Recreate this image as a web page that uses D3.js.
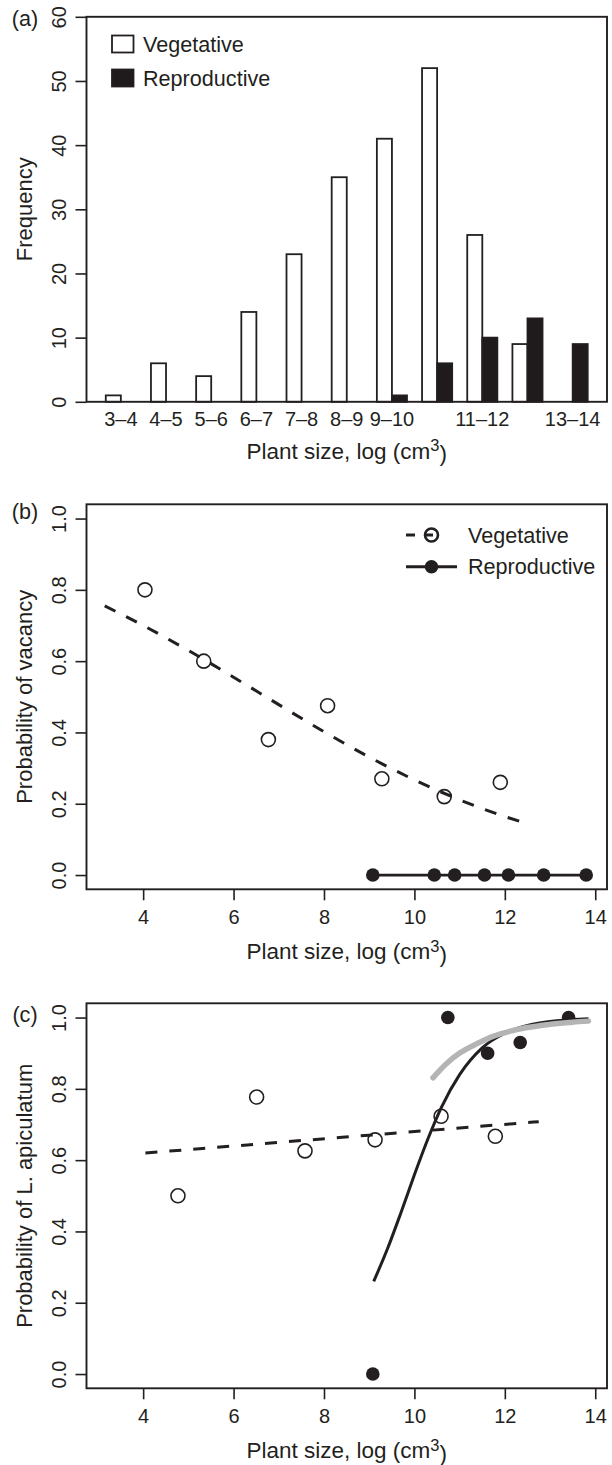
<!DOCTYPE html>
<html>
<head>
<meta charset="utf-8">
<script src="https://cdn.jsdelivr.net/npm/d3@7"></script>
<style>
  body { margin: 0; background: #fff; }
  text { font-family: "Liberation Sans", Arial, sans-serif; fill: #231f20; }
</style>
</head>
<body>
<div id="fig"></div>
<script>
// ---- data ----
// (a) histogram of plant size classes
const sizeClasses = ["3–4", "4–5", "5–6", "6–7", "7–8", "8–9", "9–10", "10–11", "11–12", "12–13", "13–14"];
const shownLabels = ["3–4", "4–5", "5–6", "6–7", "7–8", "8–9", "9–10", "11–12", "13–14"];
const vegFreq = [1, 6, 4, 14, 23, 35, 41, 52, 26, 9, 0];
const repFreq = [0, 0, 0, 0, 0, 0, 1, 6, 10, 13, 9];
const freqTicks = [0, 10, 20, 30, 40, 50, 60];

// (b) probability of vacancy
const vacVegX = [4.04, 5.34, 6.77, 8.08, 9.28, 10.66, 11.90];
const vacVegY = [0.80, 0.60, 0.38, 0.475, 0.27, 0.22, 0.26];
const vacRepX = [9.08, 10.44, 10.89, 11.55, 12.08, 12.86, 13.80];
const vacRepY = [0, 0, 0, 0, 0, 0, 0];
const vacFitX = [3.15, 4, 5, 6, 7, 8, 9, 10, 11, 12, 12.56];
const vacFitY = [0.755, 0.70, 0.63, 0.555, 0.478, 0.402, 0.331, 0.267, 0.211, 0.164, 0.142];

// (c) probability of L. apiculatum
const apiVegX = [4.77, 6.51, 7.58, 9.13, 10.59, 11.79];
const apiVegY = [0.50, 0.777, 0.626, 0.657, 0.723, 0.667];
const apiRepX = [9.08, 10.74, 11.62, 12.34, 13.41];
const apiRepY = [0.0, 1.0, 0.90, 0.93, 1.0];
const apiVegFitX = [4.05, 8.4, 12.75];
const apiVegFitY = [0.62, 0.664, 0.708];
const apiRepFitX = [9.1, 9.4, 9.7, 10.0, 10.3, 10.6, 11.0, 11.5, 12.0, 12.5, 13.0, 13.5, 13.85];
const apiRepFitY = [0.26, 0.35, 0.452, 0.559, 0.66, 0.749, 0.84, 0.915, 0.956, 0.978, 0.989, 0.9946, 0.9967];
const greyFitX = [10.41, 10.7, 11.01, 11.4, 11.75, 12.1, 12.49, 13.0, 13.5, 13.85];
const greyFitY = [0.831, 0.87, 0.901, 0.928, 0.948, 0.961, 0.972, 0.981, 0.987, 0.99];

const probTicks = [0, 0.2, 0.4, 0.6, 0.8, 1.0];
const sizeTicks = [4, 6, 8, 10, 12, 14];

// ---- layout ----
const WIDTH = 612, HEIGHT = 1465;
const INK = "#231f20";
const PLOT = {left: 86.5, right: 607, height: 385};
const TOPS = {a: 16.8, b: 504.3, c: 1003.3};
const TICK_FS = 20, TITLE_FS = 22.5, YTITLE_FS = 22, LEGEND_FS = 21.6;

const svg = d3.select("#fig").append("svg")
    .attr("width", WIDTH)
    .attr("height", HEIGHT);

// frame around a plotting region
function drawBox(top) {
  svg.append("rect")
      .attr("x", PLOT.left).attr("y", top)
      .attr("width", PLOT.right - PLOT.left)
      .attr("height", PLOT.height)
      .attr("fill", "none")
      .attr("stroke", INK)
      .attr("stroke-width", 1.9);
}

// left axis with R style rotated labels
function leftAxis(scale, ticks, fmt) {
  const ax = svg.append("g")
      .attr("transform", "translate(" + PLOT.left + ",0)")
      .call(d3.axisLeft(scale).tickValues(ticks).tickSize(11).tickPadding(0).tickFormat(fmt))
      .attr("font-size", null).attr("font-family", null);
  ax.select(".domain").remove();
  ax.selectAll(".tick line").attr("stroke", INK).attr("stroke-width", 1.6);
  ax.selectAll(".tick text")
      .attr("x", null).attr("dy", "0.35em")
      .attr("text-anchor", "middle")
      .attr("transform", "translate(-27.5,0) rotate(-90)")
      .attr("font-size", TICK_FS)
      .attr("fill", INK);
}

function bottomAxis(scale, top) {
  const ax = svg.append("g")
      .attr("transform", "translate(0," + (top + PLOT.height) + ")")
      .call(d3.axisBottom(scale).tickValues(sizeTicks).tickSize(11).tickPadding(4).tickFormat(d3.format("d")))
      .attr("font-size", null).attr("font-family", null);
  ax.select(".domain").remove();
  ax.selectAll(".tick line").attr("stroke", INK).attr("stroke-width", 1.6);
  ax.selectAll(".tick text")
      .attr("y", 28).attr("dy", "0.35em")
      .attr("font-size", TICK_FS)
      .attr("fill", INK);
}

function xTitle(y) {
  const t = svg.append("text")
      .attr("x", (PLOT.left + PLOT.right) / 2)
      .attr("y", y)
      .attr("dy", "0.35em")
      .attr("text-anchor", "middle")
      .attr("font-size", TITLE_FS);
  t.append("tspan").text("Plant size, log (cm");
  t.append("tspan").attr("dy", "-0.45em").attr("font-size", 16.5).text("3");
  t.append("tspan").attr("dy", "0.45em").text(")");
}

function yTitle(text, top) {
  svg.append("text")
      .attr("transform", "translate(24," + (top + PLOT.height / 2) + ") rotate(-90)")
      .attr("dy", "0.35em")
      .attr("text-anchor", "middle")
      .attr("font-size", YTITLE_FS)
      .text(text);
}

function panelTag(tag, y) {
  svg.append("text")
      .attr("x", 25).attr("y", y)
      .attr("dy", "0.35em")
      .attr("text-anchor", "middle")
      .attr("font-size", LEGEND_FS)
      .text(tag);
}

// ---------------- panel (a) ----------------
const xA = d3.scaleLinear()
    .domain([-0.28, 34.28])            // bar units, R barplot with space = c(0, 1)
    .range([PLOT.left, PLOT.right]);
const yA = d3.scaleLinear()
    .domain([0, 60])
    .range([TOPS.a + PLOT.height, TOPS.a]);

const groups = sizeClasses.map((c, i) => ({cls: c, veg: vegFreq[i], rep: repFreq[i], i: i}));

svg.append("g").selectAll("rect.veg")
    .data(groups)
    .enter()
    .append("rect")
      .attr("class", "veg")
      .attr("x", d => xA(d.i * 3 + 1))
      .attr("width", xA(1) - xA(0))
      .attr("y", d => yA(d.veg))
      .attr("height", d => yA(0) - yA(d.veg))
      .attr("fill", "#fff")
      .attr("stroke", INK)
      .attr("stroke-width", 1.8);

svg.append("g").selectAll("rect.rep")
    .data(groups)
    .enter()
    .append("rect")
      .attr("class", "rep")
      .attr("x", d => xA(d.i * 3 + 2))
      .attr("width", xA(1) - xA(0))
      .attr("y", d => yA(d.rep))
      .attr("height", d => yA(0) - yA(d.rep))
      .attr("fill", "#1f1b1c")
      .attr("stroke", INK)
      .attr("stroke-width", 1.8);

drawBox(TOPS.a);
leftAxis(yA, freqTicks, d3.format("d"));

// category labels, R drops the ones that would overlap
svg.append("g").selectAll("text")
    .data(groups.filter(d => shownLabels.includes(d.cls)))
    .enter()
    .append("text")
      .attr("x", d => xA(d.i * 3 + 2))
      .attr("y", TOPS.a + PLOT.height + 17)
      .attr("dy", "0.35em")
      .attr("text-anchor", "middle")
      .attr("font-size", TICK_FS)
      .text(d => d.cls);

xTitle(TOPS.a + PLOT.height + 49);
yTitle("Frequency", TOPS.a);
panelTag("(a)", 18);

// legend (a)
const legA = [{name: "Vegetative", fill: "#fff"}, {name: "Reproductive", fill: "#1f1b1c"}];
legA.forEach((d, i) => {
  const cy = 44 + i * 34;
  svg.append("rect")
      .attr("x", 112).attr("y", cy - 8.5)
      .attr("width", 21.5).attr("height", 17)
      .attr("fill", d.fill).attr("stroke", INK).attr("stroke-width", 1.8);
  svg.append("text")
      .attr("x", 143).attr("y", cy).attr("dy", "0.35em")
      .attr("font-size", LEGEND_FS)
      .text(d.name);
});

// ---------------- panel (b) ----------------
const xSize = d3.scaleLinear()
    .domain([2.747, 14.26])
    .range([PLOT.left, PLOT.right]);
const yB = d3.scaleLinear()
    .domain([-0.04, 1.04])
    .range([TOPS.b + PLOT.height, TOPS.b]);

const line = (xs, ys, sx, sy) => d3.line()
    .x(d => sx(d[0]))
    .y(d => sy(d[1]))
    .curve(d3.curveMonotoneX)(xs.map((x, i) => [x, ys[i]]));

svg.append("g").selectAll("circle")
    .data(vacVegX.map((x, i) => [x, vacVegY[i]]))
    .enter()
    .append("circle")
      .attr("cx", d => xSize(d[0]))
      .attr("cy", d => yB(d[1]))
      .attr("r", 7)
      .attr("fill", "none")
      .attr("stroke", INK)
      .attr("stroke-width", 1.6);

svg.append("path")
    .attr("d", line(vacRepX, vacRepY, xSize, yB))
    .attr("fill", "none").attr("stroke", INK).attr("stroke-width", 2.8);

svg.append("g").selectAll("circle")
    .data(vacRepX.map((x, i) => [x, vacRepY[i]]))
    .enter()
    .append("circle")
      .attr("cx", d => xSize(d[0]))
      .attr("cy", d => yB(d[1]))
      .attr("r", 6.8)
      .attr("fill", INK);

svg.append("path")
    .attr("d", line(vacFitX, vacFitY, xSize, yB))
    .attr("fill", "none").attr("stroke", INK).attr("stroke-width", 3)
    .attr("stroke-dasharray", "12,12");

drawBox(TOPS.b);
leftAxis(yB, probTicks, d3.format(".1f"));
bottomAxis(xSize, TOPS.b);
xTitle(TOPS.b + PLOT.height + 62);
yTitle("Probability of vacancy", TOPS.b);
panelTag("(b)", 511);

// legend (b)
const legB = [{name: "Vegetative", x2: 440, dash: "9,9", open: true}, {name: "Reproductive", x2: 457, dash: null, open: false}];
legB.forEach((d, i) => {
  const cy = 535 + i * 31.7;
  svg.append("line")
      .attr("x1", 406).attr("x2", d.x2).attr("y1", cy).attr("y2", cy)
      .attr("stroke", INK).attr("stroke-width", 3)
      .attr("stroke-dasharray", d.dash);
  svg.append("circle")
      .attr("cx", 431.5).attr("cy", cy).attr("r", d.open ? 6.5 : 6.8)
      .attr("fill", d.open ? "none" : INK)
      .attr("stroke", INK).attr("stroke-width", d.open ? 2.6 : 0);
  svg.append("text")
      .attr("x", 468).attr("y", cy).attr("dy", "0.35em")
      .attr("font-size", LEGEND_FS)
      .text(d.name);
});

// ---------------- panel (c) ----------------
const yC = d3.scaleLinear()
    .domain([-0.04, 1.04])
    .range([TOPS.c + PLOT.height, TOPS.c]);

svg.append("g").selectAll("circle")
    .data(apiVegX.map((x, i) => [x, apiVegY[i]]))
    .enter()
    .append("circle")
      .attr("cx", d => xSize(d[0]))
      .attr("cy", d => yC(d[1]))
      .attr("r", 7)
      .attr("fill", "none")
      .attr("stroke", INK)
      .attr("stroke-width", 1.6);

svg.append("g").selectAll("circle")
    .data(apiRepX.map((x, i) => [x, apiRepY[i]]))
    .enter()
    .append("circle")
      .attr("cx", d => xSize(d[0]))
      .attr("cy", d => yC(d[1]))
      .attr("r", 6.8)
      .attr("fill", INK);

svg.append("path")
    .attr("d", line(apiVegFitX, apiVegFitY, xSize, yC))
    .attr("fill", "none").attr("stroke", INK).attr("stroke-width", 3)
    .attr("stroke-dasharray", "12,12");

svg.append("path")
    .attr("d", line(apiRepFitX, apiRepFitY, xSize, yC))
    .attr("fill", "none").attr("stroke", INK).attr("stroke-width", 3);

svg.append("path")
    .attr("d", line(greyFitX, greyFitY, xSize, yC))
    .attr("fill", "none").attr("stroke", "#b4b4b4").attr("stroke-width", 5.5)
    .attr("stroke-linecap", "round");

drawBox(TOPS.c);
leftAxis(yC, probTicks, d3.format(".1f"));
bottomAxis(xSize, TOPS.c);
xTitle(TOPS.c + PLOT.height + 62);
yTitle("Probability of L. apiculatum", TOPS.c);
panelTag("(c)", 1014);
</script>
</body>
</html>
